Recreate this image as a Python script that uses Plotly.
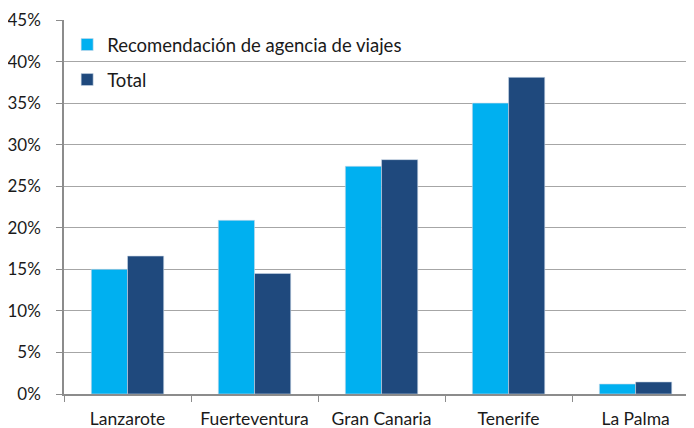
import plotly.graph_objects as go

categories = ["Lanzarote", "Fuerteventura", "Gran Canaria", "Tenerife", "La Palma"]
recomendacion = [0.150, 0.209, 0.274, 0.350, 0.012]
total = [0.166, 0.145, 0.282, 0.381, 0.0145]
series_names = ["Recomendación de agencia de viajes", "Total"]
colors = ["#00B0F0", "#1F497D"]
font_family = "Lato, 'Open Sans', sans-serif"

fig = go.Figure()
for i, (name, vals) in enumerate(zip(series_names, [recomendacion, total])):
    fig.add_trace(go.Bar(
        x=categories, y=vals, name=name, legendgroup=f"g{i}",
        marker=dict(color=colors[i], line=dict(color="#C9D7E8", width=0.6)),
    ))

fig.update_layout(
    width=686, height=420,
    margin=dict(l=56, r=0, t=12, b=34, autoexpand=False),
    paper_bgcolor="white", plot_bgcolor="white",
    barmode="group", bargap=0.43, bargroupgap=0,
    font=dict(family=font_family, size=16, color="#1a1a1a"),
    showlegend=True,
    legend=dict(x=0.005, y=0.984, xanchor="left", yanchor="top",
                bgcolor="rgba(0,0,0,0)", tracegroupgap=8,
                font=dict(size=18.5), itemwidth=30),
)
fig.update_xaxes(
    type="category", range=[-0.5, 4.46], automargin=False,
    showline=True, linecolor="#8C8C8C", linewidth=1.5,
    ticks="outside", tickson="boundaries", ticklen=6, tickcolor="#8C8C8C",
    showgrid=False, ticklabelstandoff=8, tickfont=dict(size=17.5),
)
fig.update_yaxes(
    range=[0, 0.45], dtick=0.05, tickformat=".0%", automargin=False,
    showline=True, linecolor="#8C8C8C", linewidth=1.5,
    ticks="outside", ticklen=6, tickcolor="#8C8C8C",
    showgrid=True, gridcolor="#A6A6A6", gridwidth=1.2,
    zeroline=False, ticklabelstandoff=12, tickfont=dict(size=17),
)
fig.write_html("out.html")
